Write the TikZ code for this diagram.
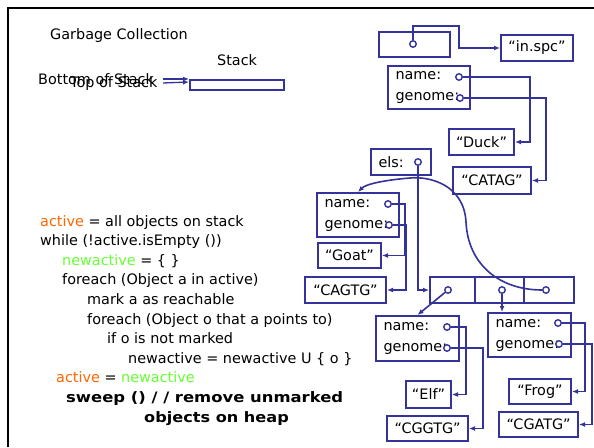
\documentclass[tikz,border=0pt]{standalone}
\usepackage{fontspec}
\setmainfont{DejaVu Sans}
\usetikzlibrary{arrows.meta,calc}
\definecolor{ln}{RGB}{51,51,153}
\definecolor{orng}{RGB}{255,102,0}
\definecolor{grn}{RGB}{102,255,51}
\begin{document}
\begin{tikzpicture}[x=1pt,y=-1pt,
  every node/.style={font=\fontsize{14.4}{21}\selectfont},
  box/.style={draw=ln,line width=2pt,inner sep=0pt,align=center},
  recbox/.style={draw=ln,line width=2pt,inner ysep=0pt,inner xsep=7.5pt,align=left},
  dot/.style={circle,draw=ln,fill=white,line width=1.4pt,minimum size=6.5pt,inner sep=0pt},
  conn/.style={draw=ln,line width=1.6pt},
  arr/.style={-{Latex[length=6pt,width=5pt]}},
  code/.style={anchor=base west,inner sep=0pt},
  codeb/.style={anchor=base west,inner sep=0pt,font=\fontsize{14.4}{21}\selectfont\bfseries}
]
\useasboundingbox (0,0) rectangle (594,447);
\fill[white] (0,0) rectangle (594,447);
% frame
\draw[black,line width=2.6pt] (8,447) -- (8,8) -- (594,8);

% titles
\node[code] (title) at (50,39) {Garbage Collection};
\node[code] (stk) at (217,65) {Stack};
\node[box,minimum width=94pt,minimum height=10pt] (stackrect) at (237,85) {};
\node[code] (bos) at (38,84) {Bottom of Stack};
\node[code] (tos) at (70,87) {Top of Stack};
\coordinate (b1) at (163,79);
\coordinate (t1) at (163,83);
\draw[conn,arr,line width=1.3pt] (b1) -- ($(stackrect.north west)+(0,0)$);
\draw[conn,arr,line width=1.3pt] (t1) -- ($(stackrect.north west)+(0,3)$);

% right side boxes
\node[box,minimum width=71pt,minimum height=25pt] (frame0) at (414.5,44.5) {};
\node[box,minimum width=72pt,minimum height=26pt] (inspc) at (537,48) {“in.spc”};
\node[recbox,text width=67pt,minimum height=43pt] (r1) at (429,87.5) {name:\\genome:};
\node[box,minimum width=65pt,minimum height=26pt] (duck) at (481.5,142) {“Duck”};
\node[box,minimum width=78pt,minimum height=27pt] (catag) at (492,180.5) {“CATAG”};
\node[recbox,text width=45pt,minimum height=26pt] (els) at (401,162) {els:};
\node[recbox,text width=67pt,minimum height=44pt] (r2) at (358,215) {name:\\genome:};
\node[box,minimum width=63pt,minimum height=25pt] (goat) at (349.5,255.5) {“Goat”};
\node[box,minimum width=81pt,minimum height=26pt] (cagtg) at (345.5,290) {“CAGTG”};
\node[box,minimum width=45pt,minimum height=26pt] (a1) at (452.5,290) {};
\node[box,minimum width=49pt,minimum height=26pt] (a2) at (499.5,290) {};
\node[box,minimum width=50pt,minimum height=26pt] (a3) at (549,290) {};
\node[recbox,text width=68pt,minimum height=45pt] (r3) at (417.5,338.5) {name:\\genome:};
\node[recbox,text width=68pt,minimum height=44pt] (r4) at (529.5,335) {name:\\genome:};
\node[box,minimum width=45pt,minimum height=27pt] (elf) at (428.5,394.5) {“Elf”};
\node[box,minimum width=81pt,minimum height=25pt] (cggtg) at (427.5,428.5) {“CGGTG”};
\node[box,minimum width=62pt,minimum height=25pt] (frog) at (540,391.5) {“Frog”};
\node[box,minimum width=79pt,minimum height=25pt] (cgatg) at (538.5,424.5) {“CGATG”};

% pointer dots
\node[dot] (d0) at (413,44) {};
\node[dot] (r1n) at (459,77) {};
\node[dot] (r1g) at (460,98) {};
\node[dot] (eld) at (418,162) {};
\node[dot] (r2n) at (388,204) {};
\node[dot] (r2g) at (389,225) {};
\node[dot] (a1d) at (448,290) {};
\node[dot] (a2d) at (502,290) {};
\node[dot] (a3d) at (546,290) {};
\node[dot] (r3n) at (447,327) {};
\node[dot] (r3g) at (447,348) {};
\node[dot] (r4n) at (558,323) {};
\node[dot] (r4g) at (559,344) {};

% connectors
\draw[conn,arr] (d0.north) -- (413,26) -| (459,48) -- (inspc.west);
\draw[conn,arr] (r1n.east) -- (530,77) |- (duck.east);
\draw[conn,arr] (r1g.east) -- (546,98) |- (catag.east);
\draw[conn,arr] (eld.south) |- (a1.west);
\draw[conn,arr] (r2n.east) -- (405,204) |- (goat.east);
\draw[conn,arr] (r2g.east) -- (406,225) |- (cagtg.east);
\draw[conn,arr] (a1d) -- (r3.north);
\draw[conn,arr] (a2d.south) -- (a2d |- r4.north);
\draw[conn,arr] (a3d.west) .. controls (500,290) and (468,265) .. (466,222)
  .. controls (464,185) and (430,176) .. (410,178)
  .. controls (385,180) and (366,184) .. (r2.north);
\draw[conn,arr] (r3n.east) -- (466,327) |- (elf.east);
\draw[conn,arr] (r3g.east) -- (483,348) |- (cggtg.east);
\draw[conn,arr] (r4n.east) -- (585,323) |- (frog.east);
\draw[conn,arr] (r4g.east) -- (592,344) |- (cgatg.east);

% algorithm text
\node[code] (c1) at (40,226) {\textcolor{orng}{active} = all objects on stack};
\node[code] (c2) at (40,245.6) {while (!active.isEmpty ())};
\node[code] (c3) at (62,265.2) {\textcolor{grn}{newactive} = \{ \}};
\node[code] (c4) at (62,284.8) {foreach (Object a in active)};
\node[code] (c5) at (87,304.4) {mark a as reachable};
\node[code] (c6) at (87,324) {foreach (Object o that a points to)};
\node[code] (c7) at (107,343.6) {if o is not marked};
\node[code] (c8) at (128,363.2) {newactive = newactive U \{ o \}};
\node[code] (c9) at (56,382.8) {\textcolor{orng}{active} = \textcolor{grn}{newactive}};
\node[codeb] (c10) at (66,402.4) {\scalebox{1.14}[1]{sweep () / / remove unmarked}};
\node[codeb] (c11) at (144,422) {\scalebox{1.12}[1]{objects on heap}};
\end{tikzpicture}
\end{document}
